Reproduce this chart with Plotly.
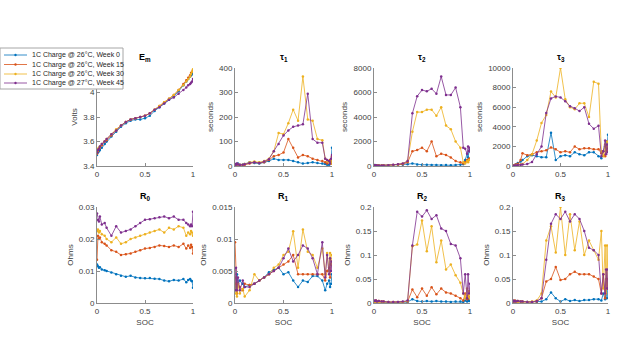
import plotly.graph_objects as go

soc = [0, 0.01, 0.02, 0.03, 0.05, 0.08, 0.1, 0.15, 0.2, 0.25, 0.3, 0.35, 0.4, 0.45, 0.5,
       0.55, 0.6, 0.65, 0.7, 0.75, 0.8, 0.85, 0.9, 0.93, 0.95, 0.97, 0.98, 0.99, 1.0]

series_names = ["1C Charge @ 26°C, Week 0", "1C Charge @ 26°C, Week 15",
                "1C Charge @ 26°C, Week 30", "1C Charge @ 27°C, Week 45"]
colors = ["#0072BD", "#D95319", "#EDB120", "#7E2F8E"]

em_w0 = [3.49,3.51,3.52,3.53,3.55,3.58,3.60,3.64,3.68,3.72,3.75,3.77,3.78,3.78,3.79,3.81,3.85,3.88,3.91,3.94,3.97,4.01,4.06,4.09,4.11,4.13,4.14,4.15,4.17]
em_w15 = [3.50,3.52,3.54,3.55,3.57,3.60,3.61,3.65,3.69,3.73,3.76,3.78,3.79,3.80,3.81,3.83,3.86,3.89,3.92,3.95,3.98,4.02,4.07,4.10,4.12,4.14,4.16,4.17,4.18]
em_w30 = [3.52,3.54,3.55,3.56,3.58,3.60,3.62,3.66,3.70,3.73,3.76,3.78,3.79,3.80,3.81,3.83,3.86,3.89,3.92,3.95,3.98,4.02,4.06,4.09,4.11,4.13,4.15,4.17,4.19]
em_w45 = [3.51,3.53,3.54,3.56,3.58,3.60,3.62,3.66,3.69,3.73,3.76,3.78,3.79,3.80,3.81,3.83,3.86,3.88,3.91,3.94,3.96,3.99,4.02,4.04,4.06,4.07,4.08,4.09,4.11]

t1_w0 = [5,8,6,10,5,5,8,15,12,10,15,20,30,25,25,25,20,15,10,12,15,12,10,8,5,5,8,20,75]
t1_w15 = [5,3,8,5,5,3,5,10,15,12,15,25,40,45,55,110,75,35,45,40,30,25,20,15,10,20,25,10,40]
t1_w30 = [5,5,8,5,3,5,8,15,18,15,20,30,60,135,130,175,230,185,365,190,185,110,105,30,20,15,20,10,25]
t1_w45 = [8,5,10,6,4,5,7,12,15,12,18,28,60,90,125,145,160,165,170,295,110,95,95,30,25,20,10,30,45]

t2_w0 = [60,80,50,70,40,50,40,50,60,80,100,150,200,120,100,100,80,80,60,80,60,80,100,150,500,1000,700,1200,1300]
t2_w15 = [50,70,40,60,40,50,40,50,80,100,150,300,1200,1300,1500,1200,2000,800,1000,900,700,400,300,200,300,500,400,600,600]
t2_w30 = [80,60,50,50,40,50,40,60,80,120,200,400,2800,4400,4400,4600,4600,4100,4800,3300,3000,2000,1500,300,200,400,300,500,500]
t2_w45 = [60,50,60,40,50,40,50,60,100,150,200,400,4300,5700,6200,6100,6300,5900,7300,5800,5800,6400,4800,1500,1400,1000,1600,1200,1500]

t3_w0 = [0,50,100,150,300,450,600,1000,1100,1000,900,900,3400,600,1000,1100,1000,1400,1200,1100,1400,1400,1000,800,1500,2000,2500,1800,3200]
t3_w15 = [0,50,100,150,200,600,1300,1100,1200,1400,1500,1600,1900,1700,1400,1500,1400,2000,1700,1800,1800,1700,1700,1300,1500,1000,2000,1500,2000]
t3_w30 = [0,30,50,80,100,150,200,600,1200,2600,4400,5200,7600,7000,10000,6800,6000,5800,6400,6400,5000,8600,8400,1500,1000,2200,1500,2500,2000]
t3_w45 = [0,30,50,60,100,120,150,200,400,1200,2000,5400,6900,7100,7000,6600,6100,5900,5600,6000,4300,3800,4100,1000,1500,2600,1200,2200,1400]

r0_w0 = [0.012,0.0115,0.011,0.0112,0.0105,0.0102,0.01,0.0095,0.009,0.0085,0.0082,0.0085,0.008,0.0078,0.0077,0.0078,0.0076,0.0075,0.007,0.0068,0.0072,0.007,0.0075,0.0065,0.0072,0.0075,0.007,0.0068,0.0048]
r0_w15 = [0.0135,0.021,0.02,0.0205,0.019,0.0185,0.018,0.0165,0.016,0.015,0.0152,0.0155,0.016,0.0165,0.017,0.0172,0.0175,0.018,0.0178,0.0175,0.018,0.0175,0.0185,0.017,0.018,0.0172,0.0182,0.0175,0.0155]
r0_w30 = [0.0225,0.023,0.022,0.0225,0.0215,0.021,0.02,0.019,0.0205,0.0185,0.019,0.02,0.0205,0.021,0.0215,0.022,0.0225,0.023,0.022,0.0235,0.023,0.024,0.0235,0.021,0.022,0.0215,0.0225,0.022,0.021]
r0_w45 = [0.028,0.026,0.0255,0.027,0.0245,0.025,0.0235,0.021,0.024,0.022,0.0225,0.023,0.024,0.025,0.026,0.0262,0.0265,0.0268,0.027,0.0265,0.027,0.026,0.026,0.025,0.0245,0.024,0.0245,0.024,0.0285]

r1_w0 = [0.003,0.002,0.0045,0.003,0.0035,0.003,0.0025,0.0028,0.003,0.0035,0.004,0.0048,0.0052,0.0055,0.0045,0.0048,0.0035,0.0025,0.0035,0.0033,0.0042,0.0042,0.0035,0.002,0.003,0.0035,0.0025,0.003,0.0045]
r1_w15 = [0.0095,0.003,0.0015,0.003,0.0025,0.002,0.003,0.0028,0.003,0.0035,0.004,0.0045,0.005,0.0055,0.006,0.0065,0.0075,0.0045,0.0045,0.0045,0.0045,0.0045,0.0045,0.0035,0.005,0.0055,0.004,0.006,0.0065]
r1_w30 = [0.004,0.0015,0.001,0.003,0.0015,0.0022,0.001,0.002,0.0045,0.0035,0.004,0.0045,0.0055,0.006,0.0075,0.008,0.0112,0.0055,0.0115,0.008,0.0075,0.0055,0.0085,0.0045,0.0078,0.005,0.0078,0.006,0.0075]
r1_w45 = [0.002,0.0055,0.002,0.004,0.002,0.0035,0.0025,0.0025,0.003,0.0035,0.004,0.0045,0.005,0.0055,0.007,0.0085,0.0065,0.0075,0.009,0.0085,0.007,0.0045,0.0095,0.004,0.0075,0.0045,0.007,0.005,0.0065]

r2_w0 = [0.003,0.002,0.003,0.002,0.003,0.002,0.002,0.001,0.001,0.001,0.001,0.002,0.008,0.004,0.003,0.004,0.003,0.004,0.003,0.003,0.002,0.003,0.003,0.002,0.005,0.003,0.006,0.004,0.005]
r2_w15 = [0.004,0.003,0.005,0.003,0.004,0.003,0.003,0.002,0.002,0.002,0.002,0.003,0.028,0.012,0.03,0.015,0.033,0.018,0.03,0.022,0.02,0.015,0.01,0.005,0.02,0.008,0.015,0.01,0.012]
r2_w30 = [0.002,0.003,0.002,0.003,0.002,0.002,0.002,0.001,0.001,0.001,0.002,0.004,0.118,0.122,0.172,0.108,0.16,0.085,0.13,0.07,0.08,0.058,0.042,0.02,0.01,0.03,0.012,0.025,0.01]
r2_w45 = [0.005,0.004,0.005,0.003,0.004,0.003,0.003,0.002,0.002,0.002,0.003,0.005,0.12,0.19,0.18,0.193,0.175,0.183,0.155,0.15,0.123,0.12,0.093,0.02,0.06,0.01,0.06,0.02,0.04]

r3_w0 = [0.003,0.004,0.003,0.004,0.003,0.003,0.002,0.002,0.002,0.002,0.003,0.008,0.022,0.01,0.003,0.008,0.004,0.006,0.004,0.006,0.006,0.008,0.008,0.005,0.02,0.008,0.025,0.01,0.03]
r3_w15 = [0.004,0.003,0.005,0.003,0.004,0.003,0.003,0.002,0.002,0.003,0.01,0.045,0.05,0.075,0.048,0.05,0.06,0.065,0.06,0.06,0.06,0.055,0.05,0.02,0.06,0.01,0.05,0.03,0.05]
r3_w30 = [0.003,0.004,0.002,0.003,0.002,0.003,0.002,0.002,0.003,0.005,0.02,0.13,0.16,0.105,0.2,0.1,0.185,0.11,0.17,0.1,0.13,0.11,0.09,0.15,0.03,0.12,0.02,0.12,0.04]
r3_w45 = [0.005,0.003,0.004,0.003,0.004,0.003,0.003,0.002,0.002,0.004,0.01,0.09,0.165,0.185,0.175,0.19,0.17,0.185,0.175,0.15,0.115,0.11,0.1,0.02,0.06,0.02,0.07,0.03,0.07]

panels = [
    ("E<sub>m</sub>", "Volts", [em_w0, em_w15, em_w30, em_w45], [3.4, 4.2],
     [3.4, 3.6, 3.8, 4.0], ["3.4", "3.6", "3.8", "4"]),
    ("τ<sub>1</sub>", "seconds", [t1_w0, t1_w15, t1_w30, t1_w45], [0, 400],
     [0, 100, 200, 300, 400], ["0", "100", "200", "300", "400"]),
    ("τ<sub>2</sub>", "seconds", [t2_w0, t2_w15, t2_w30, t2_w45], [0, 8000],
     [0, 2000, 4000, 6000, 8000], ["0", "2000", "4000", "6000", "8000"]),
    ("τ<sub>3</sub>", "seconds", [t3_w0, t3_w15, t3_w30, t3_w45], [0, 10000],
     [0, 2000, 4000, 6000, 8000, 10000], ["0", "2000", "4000", "6000", "8000", "10000"]),
    ("R<sub>0</sub>", "Ohms", [r0_w0, r0_w15, r0_w30, r0_w45], [0, 0.03],
     [0, 0.01, 0.02, 0.03], ["0", "0.01", "0.02", "0.03"]),
    ("R<sub>1</sub>", "Ohms", [r1_w0, r1_w15, r1_w30, r1_w45], [0, 0.015],
     [0, 0.005, 0.01, 0.015], ["0", "0.005", "0.01", "0.015"]),
    ("R<sub>2</sub>", "Ohms", [r2_w0, r2_w15, r2_w30, r2_w45], [0, 0.2],
     [0, 0.05, 0.1, 0.15, 0.2], ["0", "0.05", "0.1", "0.15", "0.2"]),
    ("R<sub>3</sub>", "Ohms", [r3_w0, r3_w15, r3_w30, r3_w45], [0, 0.2],
     [0, 0.05, 0.1, 0.15, 0.2], ["0", "0.05", "0.1", "0.15", "0.2"]),
]

W, H = 640, 360
col_px = [(97, 193), (235, 332), (374, 470), (513, 608)]
row_px = [(68, 166), (207, 303)]

fig = go.Figure()
layout = dict(
    width=W, height=H, paper_bgcolor="white", plot_bgcolor="white",
    margin=dict(l=0, r=0, t=0, b=0, autoexpand=False),
    font=dict(family="Liberation Sans, Arial, sans-serif", size=8, color="#404040"),
    showlegend=False,
)
annotations = []
shapes = []
axis_common = dict(showline=True, linecolor="#8c8c8c", linewidth=1, ticks="inside",
                   ticklen=3, tickcolor="#8c8c8c", showgrid=False, zeroline=False,
                   tickfont=dict(size=8, color="#404040"), mirror=False, automargin=False)

for i, (title, ylab, data, yr, tv, tt) in enumerate(panels):
    r, c = divmod(i, 4)
    n = i + 1
    xa = "xaxis" if n == 1 else f"xaxis{n}"
    ya = "yaxis" if n == 1 else f"yaxis{n}"
    x0, x1 = col_px[c]
    ytop, ybot = row_px[r]
    layout[xa] = dict(axis_common, domain=[x0 / W, x1 / W], range=[0, 1],
                      tickvals=[0, 0.5, 1], ticktext=["0", "0.5", "1"],
                      anchor=f"y{n}" if n > 1 else "y")
    if r == 1:
        layout[xa]["title"] = dict(text="SOC", font=dict(size=8, color="#404040"), standoff=4)
    layout[ya] = dict(axis_common, domain=[1 - ybot / H, 1 - ytop / H], range=yr,
                      tickvals=tv, ticktext=tt,
                      anchor=f"x{n}" if n > 1 else "x",
                      title=dict(text=ylab, font=dict(size=8, color="#404040"), standoff=4))
    for k in range(4):
        fig.add_trace(go.Scatter(
            x=soc, y=data[k], mode="lines+markers", name=series_names[k],
            line=dict(color=colors[k], width=0.8),
            marker=dict(color=colors[k], size=2.5),
            xaxis=f"x{n}" if n > 1 else "x", yaxis=f"y{n}" if n > 1 else "y",
        ))
    annotations.append(dict(
        text=f"<b>{title}</b>", x=(x0 + x1) / 2 / W, y=1 - (ytop - 3) / H,
        xref="paper", yref="paper", xanchor="center", yanchor="bottom",
        showarrow=False, font=dict(size=9, color="#000000")))

# legend box (drawn as shapes + text, MATLAB-style compact legend)
lg_left, lg_right, lg_top, lg_bot = 0, 123, 48, 89
shapes.append(dict(type="rect", xref="paper", yref="paper",
                   x0=lg_left / W, x1=lg_right / W, y0=1 - lg_bot / H, y1=1 - lg_top / H,
                   fillcolor="white", line=dict(color="#a6a6a6", width=1), layer="above"))
row_y = [55, 64.5, 74, 83]
for k in range(4):
    yy = 1 - row_y[k] / H
    shapes.append(dict(type="line", xref="paper", yref="paper",
                       x0=4 / W, x1=27 / W, y0=yy, y1=yy,
                       line=dict(color=colors[k], width=0.8), layer="above"))
    shapes.append(dict(type="circle", xref="paper", yref="paper",
                       x0=14.3 / W, x1=16.7 / W, y0=yy - 1.2 / H, y1=yy + 1.2 / H,
                       fillcolor=colors[k], line=dict(color=colors[k], width=0), layer="above"))
    annotations.append(dict(
        text=series_names[k], x=30 / W, y=yy, xref="paper", yref="paper",
        xanchor="left", yanchor="middle", showarrow=False,
        font=dict(size=7, color="#262626")))

layout["annotations"] = annotations
layout["shapes"] = shapes
fig.update_layout(**layout)
fig.write_html("out.html", config={"displayModeBar": False},
               post_script="document.body.style.margin='0';")
